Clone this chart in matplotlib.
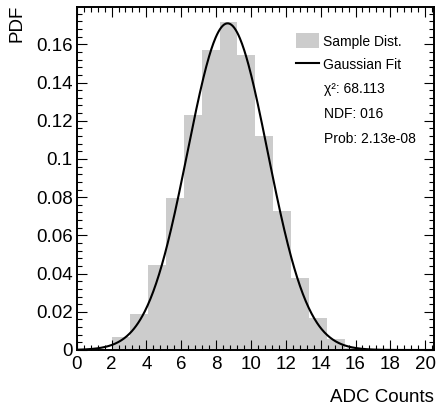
import numpy as np
import matplotlib
matplotlib.use('Agg')
import matplotlib.pyplot as plt
from matplotlib.patches import Patch
from matplotlib.lines import Line2D
from matplotlib.ticker import MultipleLocator

plt.rcParams['font.family'] = ['Liberation Sans', 'DejaVu Sans']

# histogram (20 bins over 0..20.5), normalised
bin_lo = 0.0
bin_hi = 20.5
pdf_vals = [0.0, 0.0, 0.007, 0.019, 0.0443, 0.0797, 0.123, 0.157, 0.1716, 0.1545,
            0.112, 0.0729, 0.0379, 0.0166, 0.0059, 0.0013, 0.0, 0.0, 0.0, 0.0]
# gaussian fit parameters
fit_amp = 0.171
fit_mean = 8.66
fit_sigma = 2.3
stats = ['\u03c7\u00b2: 68.113', 'NDF: 016', 'Prob: 2.13e-08']

edges = np.linspace(bin_lo, bin_hi, len(pdf_vals) + 1)
xf = np.linspace(bin_lo, bin_hi, 500)
yf = fit_amp * np.exp(-0.5 * ((xf - fit_mean) / fit_sigma) ** 2)

fig = plt.figure(figsize=(4.37, 4.12), dpi=100)
ax = fig.add_axes([0.1755, 0.1505, 0.8175, 0.8332])

ax.stairs(pdf_vals, edges, fill=True, color='#cccccc', linewidth=0)
ax.plot(xf, yf, color='black', lw=1.5)

ax.set_xlim(bin_lo, bin_hi)
ax.set_ylim(0, 0.1797)
ax.xaxis.set_major_locator(MultipleLocator(2))
ax.xaxis.set_minor_locator(MultipleLocator(0.4))
ax.yaxis.set_major_locator(MultipleLocator(0.02))
ax.yaxis.set_minor_locator(MultipleLocator(0.004))
ax.set_yticks([0, 0.02, 0.04, 0.06, 0.08, 0.1, 0.12, 0.14, 0.16])
ax.set_yticklabels(['0', '0.02', '0.04', '0.06', '0.08', '0.1', '0.12', '0.14', '0.16'])

ax.tick_params(which='both', direction='in', top=True, right=True, width=0.8)
ax.tick_params(which='major', length=7, labelsize=13.5)
ax.tick_params(axis='x', which='major', pad=4.5)
ax.tick_params(axis='y', which='major', pad=3)
ax.tick_params(which='minor', length=3.6)
for s in ax.spines.values():
    s.set_linewidth(1.4)

ax.set_xlabel('ADC Counts', fontsize=13.5, loc='right')
ax.xaxis.set_label_coords(1.0, -0.115)
ax.set_ylabel('PDF', fontsize=13.5, loc='top')
ax.yaxis.set_label_coords(-0.142, 1.005)

handles = [Patch(facecolor='#cccccc', edgecolor='none'), Line2D([], [], color='black', lw=1.5)]
ax.legend(handles, ['Sample Dist.', 'Gaussian Fit'], loc='upper left',
          bbox_to_anchor=(0.615, 0.9225), frameon=False, fontsize=10,
          handlelength=1.65, handleheight=1.3, handletextpad=0.25,
          labelspacing=0.57, borderpad=0, borderaxespad=0)

for i, t in enumerate(stats):
    ax.text(0.692, 0.759 - i * 0.0728, t, transform=ax.transAxes,
            fontsize=10, va='center', ha='left')

fig.savefig('out.png', dpi=100)
